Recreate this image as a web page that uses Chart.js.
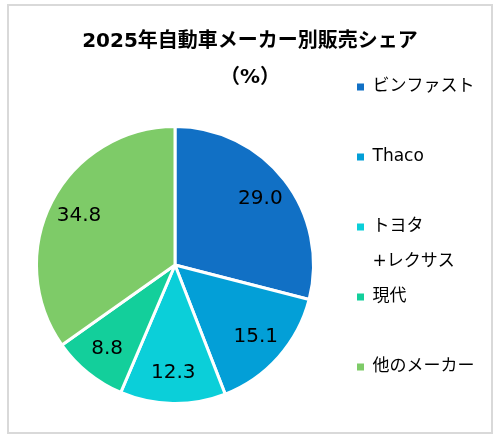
<!DOCTYPE html>
<html>
<head>
<meta charset="utf-8">
<script src="https://cdn.jsdelivr.net/npm/chart.js@4.4.1/dist/chart.umd.min.js"></script>
<style>
html, body { margin: 0; padding: 0; background: #fff; }
#wrap { position: relative; width: 495px; height: 440px; }
#frame { position: absolute; left: 7px; top: 4px; width: 486px; height: 430px; box-sizing: border-box; border: 2px solid #D9D9D9; pointer-events: none; }
</style>
</head>
<body>
<div id="wrap"><canvas id="c"></canvas><div id="frame"></div></div>
<script>
const TITLE_LINES = ['2025年自動車メーカー別販売シェア', '（%）'];
const CATEGORIES = ['ビンファスト', 'Thaco', 'トヨタ+レクサス', '現代', '他のメーカー'];
const LEGEND_LINES = [['ビンファスト', ''], ['Thaco', ''], ['トヨタ', '+レクサス'], ['現代', ''], ['他のメーカー']];
const SHARES = [29.0, 15.1, 12.3, 8.8, 34.8];
const COLORS = ['#1170C5', '#039FD7', '#0BCFD9', '#13CF9B', '#7ECB68'];

const FONT = '"DejaVu Sans", "Noto Sans CJK JP", sans-serif';

const valueLabels = {
  id: 'valueLabels',
  afterDatasetsDraw(chart) {
    const ctx = chart.ctx;
    const meta = chart.getDatasetMeta(0);
    ctx.save();
    ctx.font = '20px "DejaVu Sans"';
    ctx.fillStyle = '#000';
    ctx.textAlign = 'center';
    ctx.textBaseline = 'middle';
    meta.data.forEach((arc, i) => {
      const p = arc.getProps(['x', 'y', 'startAngle', 'endAngle', 'outerRadius'], true);
      const mid = (p.startAngle + p.endAngle) / 2;
      const r = p.outerRadius * 0.78;
      ctx.fillText(SHARES[i].toFixed(1), p.x + Math.cos(mid) * r, p.y + Math.sin(mid) * r);
    });
    ctx.restore();
  }
};

const legendGap = {
  id: 'legendGap',
  beforeInit(chart) {
    if (!Chart.layouts) return;
    Chart.layouts.addBox(chart, {
      position: 'right', weight: 0, fullSize: false, options: { display: false },
      width: 0, height: 0, top: 0, left: 0, right: 0, bottom: 0,
      isHorizontal() { return false; },
      update(maxWidth, maxHeight) { this.width = 22.5; this.height = maxHeight; },
      draw() {}
    });
  }
};

new Chart(document.getElementById('c'), {
  type: 'pie',
  data: {
    labels: CATEGORIES,
    datasets: [{
      data: SHARES,
      backgroundColor: COLORS,
      borderColor: '#FFFFFF',
      borderWidth: 3,
      hoverOffset: 0
    }]
  },
  options: {
    responsive: true,
    maintainAspectRatio: false,
    animation: false,
    events: [],
    layout: { padding: { left: 15.5, right: 10.5, top: 0, bottom: 35 } },
    plugins: {
      title: {
        display: true,
        text: TITLE_LINES,
        color: '#000',
        font: { family: FONT, size: 20, weight: 'bold', lineHeight: '36px' },
        padding: { top: 24, bottom: 29 }
      },
      legend: {
        position: 'right',
        align: 'start',
        title: { display: true, text: '', font: { size: 12, lineHeight: 1 }, padding: { top: 66.5, bottom: 0 } },
        labels: {
          boxWidth: 7,
          boxHeight: 7,
          padding: 0,
          color: '#000',
          font: { family: FONT, size: 17, lineHeight: '35px' },
          generateLabels() {
            return LEGEND_LINES.map((t, i) => ({
              text: t,
              fillStyle: COLORS[i],
              strokeStyle: COLORS[i],
              lineWidth: 0,
              hidden: false,
              index: i,
              fontColor: '#000'
            }));
          }
        }
      },
      tooltip: { enabled: false }
    }
  },
  plugins: [legendGap, valueLabels]
});
</script>
</body>
</html>
